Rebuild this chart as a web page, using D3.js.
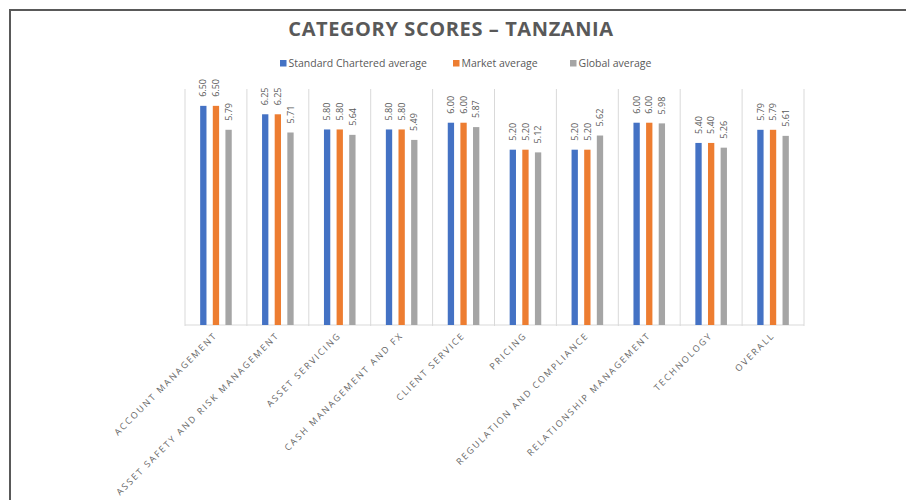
<!DOCTYPE html>
<html>
<head>
<meta charset="utf-8">
<script src="https://cdn.jsdelivr.net/npm/d3@7"></script>
<style>
  body { margin: 0; background: #fff; }
  text { font-family: "Open Sans", Lato, sans-serif; fill: #595959; }
</style>
</head>
<body>
<div id="chart"></div>
<script>
// categories and series values
const categories = [
  "ACCOUNT MANAGEMENT",
  "ASSET SAFETY AND RISK MANAGEMENT",
  "ASSET SERVICING",
  "CASH MANAGEMENT AND FX",
  "CLIENT SERVICE",
  "PRICING",
  "REGULATION AND COMPLIANCE",
  "RELATIONSHIP MANAGEMENT",
  "TECHNOLOGY",
  "OVERALL"
];
const seriesNames = ["Standard Chartered average", "Market average", "Global average"];
const scAverage = [6.50, 6.25, 5.80, 5.80, 6.00, 5.20, 5.20, 6.00, 5.40, 5.79];
const marketAverage = [6.50, 6.25, 5.80, 5.80, 6.00, 5.20, 5.20, 6.00, 5.40, 5.79];
const globalAverage = [5.79, 5.71, 5.64, 5.49, 5.87, 5.12, 5.62, 5.98, 5.26, 5.61];
const colors = ["#4472C4", "#ED7D31", "#A5A5A5"];

const width = 906, height = 500;
const margin = { top: 89, right: 102, bottom: 175, left: 185 };

const svg = d3.select("#chart").append("svg")
  .attr("width", width)
  .attr("height", height);

// outer frame (only top and left edges are visible in the crop)
svg.append("rect")
  .attr("x", 10).attr("y", 10)
  .attr("width", width + 20).attr("height", height + 20)
  .attr("fill", "none")
  .attr("stroke", "#595959")
  .attr("stroke-width", 2);

svg.append("text")
  .attr("x", 451).attr("y", 36)
  .attr("text-anchor", "middle")
  .style("font-size", "20px")
  .style("font-weight", "bold")
  .style("letter-spacing", "0.6px")
  .text("CATEGORY SCORES \u2013 TANZANIA");

const data = categories.map((c, i) => ({
  category: c,
  values: [scAverage[i], marketAverage[i], globalAverage[i]]
}));

const x0 = d3.scaleBand()
  .domain(categories)
  .range([margin.left, width - margin.right]);

const x1 = d3.scaleBand()
  .domain(seriesNames)
  .range([0, x0.bandwidth()])
  .paddingInner(0.5)
  .paddingOuter(1.2);

const y = d3.scaleLinear()
  .domain([0, 7])
  .range([height - margin.bottom, margin.top]);

// category separators
const bounds = categories.map(c => x0(c)).concat([x0.range()[1]]);
svg.append("g").selectAll("line")
  .data(bounds)
  .join("line")
  .attr("x1", d => d).attr("x2", d => d)
  .attr("y1", y(7)).attr("y2", y(0) + 1)
  .attr("stroke", "#d9d9d9")
  .attr("stroke-width", 1);

svg.append("line")
  .attr("x1", x0.range()[0]).attr("x2", x0.range()[1])
  .attr("y1", y(0)).attr("y2", y(0))
  .attr("stroke", "#d9d9d9");

// bars
const groups = svg.append("g").selectAll("g")
  .data(data)
  .join("g")
  .attr("transform", d => `translate(${x0(d.category)},0)`);

groups.selectAll("rect")
  .data(d => d.values.map((v, i) => ({ name: seriesNames[i], value: v, i })))
  .join("rect")
  .attr("x", d => x1(d.name))
  .attr("y", d => y(d.value))
  .attr("width", x1.bandwidth())
  .attr("height", d => y(0) - y(d.value))
  .attr("fill", d => colors[d.i]);

// data labels
groups.selectAll("text")
  .data(d => d.values.map((v, i) => ({ name: seriesNames[i], value: v, i })))
  .join("text")
  .attr("transform", d => `translate(${x1(d.name) + x1.bandwidth() / 2},${y(d.value) - 9}) rotate(-90)`)
  .attr("dy", "0.35em")
  .style("font-size", "9px")
  .text(d => d.value.toFixed(2));

// x axis labels
svg.append("g").selectAll("text")
  .data(categories)
  .join("text")
  .attr("transform", d => `translate(${x0(d) + x0.bandwidth() / 2 + 2},${y(0) + 11}) rotate(-45)`)
  .attr("text-anchor", "end")
  .style("font-size", "9px")
  .style("letter-spacing", "1.9px")
  .style("fill", "#666")
  .text(d => d);

// legend
const legendX = [280, 453, 570];
const legend = svg.append("g").selectAll("g")
  .data(seriesNames)
  .join("g")
  .attr("transform", (d, i) => `translate(${legendX[i]},60)`);
legend.append("rect")
  .attr("width", 6.5).attr("height", 6.5)
  .attr("fill", (d, i) => colors[i]);
legend.append("text")
  .attr("x", 8.5).attr("y", 7)
  .style("font-size", "10.5px")
  .text(d => d);
</script>
</body>
</html>
